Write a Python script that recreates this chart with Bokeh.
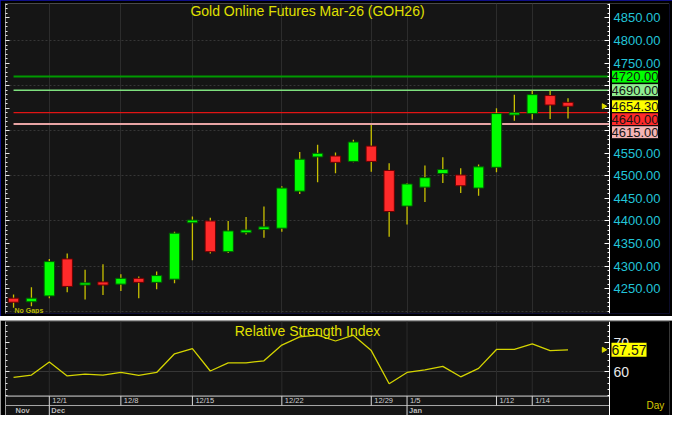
import numpy as np
from bokeh.plotting import figure
from bokeh.layouts import column
from bokeh.models import (Range1d, LinearAxis, SingleIntervalTicker, FixedTicker,
                          NumeralTickFormatter, CustomJSTickFormatter, Label,
                          ColumnDataSource)
from bokeh.core.properties import value
from bokeh.embed import file_html
from bokeh.resources import INLINE

# ---------------- data ----------------
opens  = [4229, 4221, 4234, 4316, 4258, 4265, 4260, 4273, 4264, 4271, 4396, 4400, 4332, 4374,
          4381, 4384, 4466, 4542, 4544, 4532, 4566, 4512, 4433, 4475, 4505, 4502, 4473, 4519,
          4635, 4638, 4678, 4663]
highs  = [4237, 4253, 4316, 4328, 4292, 4304, 4282, 4277, 4288, 4376, 4410, 4407, 4400, 4409,
          4432, 4477, 4553, 4569, 4552, 4580, 4613, 4528, 4484, 4523, 4541, 4517, 4525, 4650,
          4680, 4689, 4689, 4672]
lows   = [4208, 4211, 4229, 4242, 4226, 4236, 4245, 4229, 4249, 4262, 4313, 4328, 4329, 4370,
          4363, 4376, 4460, 4486, 4506, 4530, 4509, 4365, 4392, 4442, 4484, 4462, 4456, 4508,
          4622, 4625, 4626, 4627]
closes = [4220, 4229, 4310, 4255, 4263, 4258, 4273, 4264, 4279, 4373, 4402, 4332, 4378, 4380,
          4387, 4473, 4537, 4550, 4530, 4575, 4532, 4421, 4482, 4496, 4514, 4478, 4520, 4638,
          4640, 4680, 4657, 4654.30]
rsi    = [58.1, 58.9, 63.4, 58.6, 59.2, 58.9, 59.8, 58.8, 59.8, 66.2, 68.0, 60.3, 63.1, 63.1,
          63.8, 69.2, 72.0, 72.6, 70.6, 72.6, 67.3, 55.9, 59.8, 60.7, 61.9, 58.3, 61.2, 67.7,
          67.7, 69.6, 67.3, 67.57]
date_idx    = [2, 6, 10, 15, 20, 22, 27, 29]
date_labels = ["12/1", "12/8", "12/15", "12/22", "12/29", "1/5", "1/12", "1/14"]
month_idx    = [0, 2, 22]
month_labels = ["Nov", "Dec", "Jan"]
level_values = [4720, 4690, 4640, 4615]
level_colors = ["#009a00", "#7ee07e", "#e01414", "#e8a4a4"]
level_boxes  = ["#00ff00", "#90ee90", "#ff2a2a", "#f4b4b4"]
level_widths = [2, 1.5, 1.2, 2]
title_text = "Gold Online Futures Mar-26 (GOH26)"
rsi_title  = "Relative Strength Index"

# ---------------- layout ----------------
W, H1, H2, GAP = 672, 316, 95, 4
FONT = "Liberation Sans"
BG = "#151515"
n = len(closes)
idx = list(range(n))
X0 = -0.45
PLOT_RIGHT = n + 1.32           # right edge of the candle area (price axis position)
X_END = PLOT_RIGHT + 3.354      # includes the label column
x_rng = Range1d(X0, X_END)
Y_MAIN = (4195, 4882)
Y_RSI = (45.0, 77.3)
AXIS_Y, MONTH_Y = 51.67, 48.43


def base_fig(height, y_rng, top):
    f = figure(width=W, height=height, x_range=x_rng, y_range=Range1d(*y_rng),
               output_backend="svg", toolbar_location=None, tools="",
               x_axis_location=None, y_axis_location=None,
               min_border_left=5, min_border_right=3, min_border_top=top, min_border_bottom=3,
               background_fill_color=BG, border_fill_color="#000000", outline_line_color=None)
    return f


def left_ticks(f, major, minor):
    ax = LinearAxis(ticker=FixedTicker(ticks=major, minor_ticks=minor),
                    formatter=CustomJSTickFormatter(code="return ''"),
                    major_tick_in=4, major_tick_out=0, minor_tick_in=2, minor_tick_out=0,
                    major_label_standoff=0, axis_line_color="#9a9a9a",
                    major_tick_line_color="#e6e6e6", minor_tick_line_color="#e6e6e6")
    f.add_layout(ax, "left")


# ---------------- main price panel ----------------
p = base_fig(H1, Y_MAIN, 3)
p.styles = {"outline": "3px solid #1414b4", "outline-offset": "-3px"}
p.xgrid.ticker = FixedTicker(ticks=date_idx)
p.xgrid.grid_line_color = "#2c2c2c"
p.ygrid.ticker = SingleIntervalTicker(interval=100, num_minor_ticks=0)
p.ygrid.grid_line_color = "#363636"
p.ygrid.grid_line_dash = "2 2"

major_p = list(range(4250, 4851, 50))
minor_p = list(range(4200, 4881, 10))
left_ticks(p, major_p, minor_p)

# black label column
p.quad(left=[PLOT_RIGHT], right=[X_END], bottom=[Y_MAIN[0]], top=[Y_MAIN[1]],
       fill_color="#000000", line_color=None)

lo_box, hi_box = min(level_values) - 20, max(level_values) + 15
hidden = {t: "" for t in major_p if lo_box <= t <= hi_box}
ry = LinearAxis(fixed_location=PLOT_RIGHT,
                ticker=FixedTicker(ticks=major_p, minor_ticks=minor_p),
                formatter=NumeralTickFormatter(format="0.00"),
                major_label_overrides=hidden,
                major_tick_in=5, major_tick_out=0, minor_tick_in=2, minor_tick_out=0,
                major_label_standoff=4, axis_line_color="#ffffff",
                major_tick_line_color="#ffffff", minor_tick_line_color="#ffffff",
                major_label_text_color="#22c4d8", major_label_text_font_size="13px",
                major_label_text_font=FONT)
p.add_layout(ry, "right")

# horizontal levels
for v, c, w in zip(level_values, level_colors, level_widths):
    p.segment(x0=[0], y0=[v], x1=[PLOT_RIGHT], y1=[v], line_color=c, line_width=w)

up = [c >= o for o, c in zip(opens, closes)]
src = ColumnDataSource(dict(
    x=idx, high=highs, low=lows,
    top=[max(o, c) for o, c in zip(opens, closes)],
    bottom=[min(o, c) for o, c in zip(opens, closes)],
    fill=["#00ff00" if u else "#ff2a2a" for u in up],
    edge=["#005a00" if u else "#6a0000" for u in up],
))
p.segment(x0="x", y0="low", x1="x", y1="high", source=src, line_color="#c8c000", line_width=1.3)
p.vbar(x="x", width=0.58, top="top", bottom="bottom", source=src,
       fill_color="fill", line_color="edge", line_width=1)

p.scatter(x=[n + 1], y=[closes[-1]], marker="triangle", angle=-np.pi / 2, size=5,
          color="#e0e000")

p.add_layout(Label(x=(X0 + PLOT_RIGHT) / 2, y=Y_MAIN[1], text=title_text,
                   text_align="center", text_baseline="top", y_offset=1,
                   text_color="#e0e000", text_font=FONT, text_font_size="14px"))
p.add_layout(Label(x=X0, y=Y_MAIN[0], x_offset=9, y_offset=0, text="No Gaps",
                   text_align="left", text_baseline="bottom", text_color="#b8b800",
                   text_font=FONT, text_font_size="7px", text_font_style="bold"))

# price boxes on the right, stacked so they do not overlap
boxes = sorted(list(zip(level_values, level_boxes)) + [(closes[-1], "#ffff00")],
               key=lambda t: -t[0])
ppu = (H1 - 6) / (Y_MAIN[1] - Y_MAIN[0])
BOX_H = 13
prev_bottom = -1e9
for v, bg in boxes:
    py = (Y_MAIN[1] - v) * ppu
    shift = max(0.0, prev_bottom - (py - BOX_H / 2))
    prev_bottom = py + shift + BOX_H / 2
    p.add_layout(Label(x=PLOT_RIGHT, y=v, x_offset=2, y_offset=-shift, text=f"{v:.2f}",
                       text_align="left", text_baseline="middle", text_color="#141414",
                       text_font=FONT, text_font_size="13px",
                       background_fill_color=bg, border_line_color="#000000",
                       padding=(0, 2)))

# ---------------- RSI panel ----------------
p2 = base_fig(H2, Y_RSI, 1)
p2.min_border_bottom = 0
p2.styles = {"outline": "2px solid #cfcfcf", "outline-offset": "-2px"}
p2.xgrid.grid_line_color = None
p2.ygrid.ticker = FixedTicker(ticks=[60])
p2.ygrid.grid_line_color = "#363636"

rsi_major = [60, 70]
rsi_minor = list(range(52, 78, 2))
left_ticks(p2, rsi_major, rsi_minor)

p2.quad(left=[PLOT_RIGHT], right=[X_END], bottom=[Y_RSI[0]], top=[Y_RSI[1]],
        fill_color="#000000", line_color=None)
ry2 = LinearAxis(fixed_location=PLOT_RIGHT,
                 ticker=FixedTicker(ticks=rsi_major, minor_ticks=rsi_minor),
                 major_tick_in=5, major_tick_out=0, minor_tick_in=2, minor_tick_out=0,
                 major_label_standoff=4, axis_line_color="#ffffff",
                 major_tick_line_color="#ffffff", minor_tick_line_color="#ffffff",
                 major_label_text_color="#e8e8e8", major_label_text_font_size="14px",
                 major_label_text_font=FONT)
p2.add_layout(ry2, "right")

# vertical grid above the date axis, and the date rows
nd = len(date_idx)
p2.segment(x0=date_idx, y0=[AXIS_Y] * nd, x1=date_idx, y1=[Y_RSI[1]] * nd, line_color="#2c2c2c")
p2.segment(x0=[X0, X0], y0=[AXIS_Y, MONTH_Y], x1=[PLOT_RIGHT, PLOT_RIGHT], y1=[AXIS_Y, MONTH_Y],
           line_color=["#d8d8d8", "#a8a8a8"], line_width=1)
p2.segment(x0=date_idx, y0=[MONTH_Y] * nd, x1=date_idx, y1=[AXIS_Y] * nd, line_color="#d8d8d8")
p2.segment(x0=month_idx[1:], y0=[Y_RSI[0]] * 2, x1=month_idx[1:], y1=[MONTH_Y] * 2,
           line_color="#d8d8d8")
p2.text(x=date_idx, y=[(AXIS_Y + MONTH_Y) / 2] * nd, text=date_labels, x_offset=3,
        text_align="left", text_baseline="middle", text_color="#d0d0d0",
        text_font=value(FONT), text_font_size=value("7.5px"))
p2.text(x=month_idx, y=[(MONTH_Y + Y_RSI[0]) / 2] * len(month_idx), text=month_labels,
        x_offset=2, text_align="left", text_baseline="middle", text_color="#bcbcbc",
        text_font=value(FONT), text_font_size=value("7.5px"), text_font_style="bold")

p2.line(x=idx, y=rsi, line_color="#d4d400", line_width=1.3)
p2.scatter(x=[n + 1], y=[rsi[-1]], marker="triangle", angle=-np.pi / 2, size=5, color="#e0e000")

p2.add_layout(Label(x=(X0 + PLOT_RIGHT) / 2, y=Y_RSI[1], y_offset=-1, text=rsi_title,
                    text_align="center", text_baseline="top", text_color="#e0e000",
                    text_font=FONT, text_font_size="14px"))
p2.add_layout(Label(x=PLOT_RIGHT, y=rsi[-1], x_offset=2, text=f"{rsi[-1]:.2f}",
                    text_align="left", text_baseline="middle", text_color="#141414",
                    text_font=FONT, text_font_size="14px", background_fill_color="#ffff00",
                    padding=(0, 2)))
p2.add_layout(Label(x=PLOT_RIGHT, y=(MONTH_Y + AXIS_Y) / 2 - 1.5, x_offset=37, text="Day",
                    text_align="left", text_baseline="middle", text_color="#d8c800",
                    text_font=FONT, text_font_size="10px"))

layout = column(p, p2, spacing=GAP)
open("out.html", "w").write(file_html(layout, INLINE))
